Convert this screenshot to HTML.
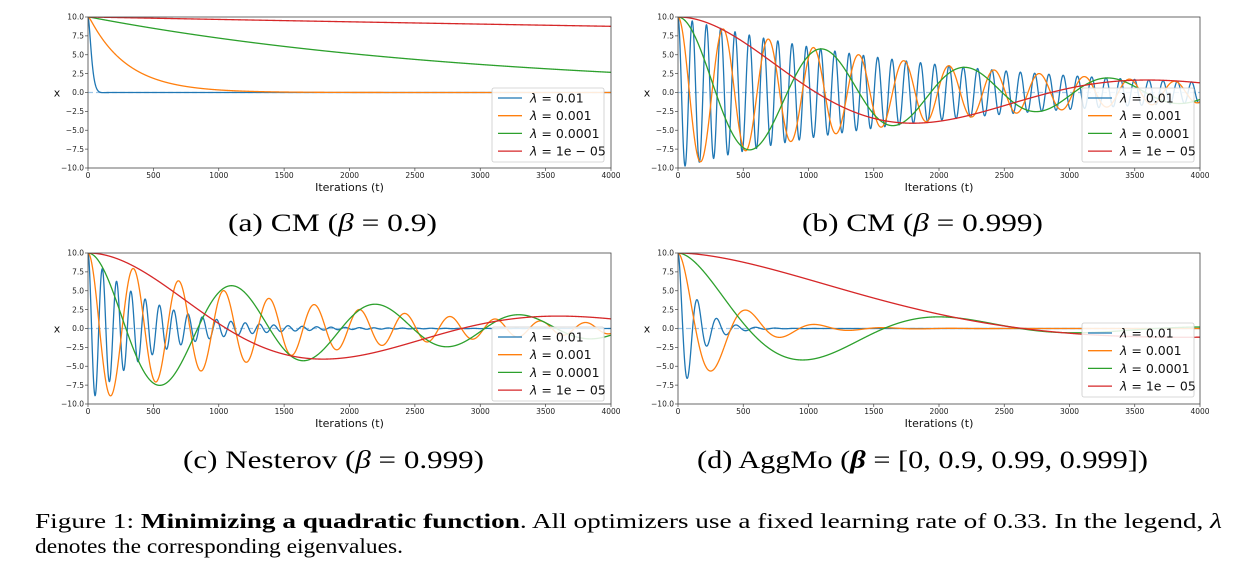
<!DOCTYPE html>
<html><head><meta charset="utf-8"><style>
body{margin:0;background:#fff;width:1245px;height:571px;overflow:hidden}
svg{display:block}
.tk{font-family:"DejaVu Sans",sans-serif;font-size:7.5px;fill:#222}
.lab{font-family:"DejaVu Sans",sans-serif;font-size:11px;fill:#111}
.lg{font-family:"DejaVu Sans",sans-serif;font-size:12.5px;fill:#111}
.cap{font-family:"Liberation Serif",serif;font-size:25px;fill:#000}
.fig{font-family:"Liberation Serif",serif;font-size:21px;fill:#000}
</style></head><body>
<svg id="s" width="1245" height="571"></svg>
<script>
// data
const lambdas=[0.01,0.001,0.0001,0.00001];
const lambdaLabels=["0.01","0.001","0.0001","1e \u2212 05"];
const colors=["#1f77b4","#ff7f0e","#2ca02c","#d62728"];
const xTicks=[0,500,1000,1500,2000,2500,3000,3500,4000];
const yTicks=[10,7.5,5,2.5,0,-2.5,-5,-7.5,-10];
const yTickLabels=["10.0","7.5","5.0","2.5","0.0","\u22122.5","\u22125.0","\u22127.5","\u221210.0"];
const learningRate=0.33;
const startValue=10;
const numIters=4000;
const aggmoBetas=[0,0.9,0.99,0.999];
const panelMethods=["cm","cm","nesterov","aggmo"];
const panelBetas=[0.9,0.999,0.999,0];

const NS="http://www.w3.org/2000/svg";
const svg=document.getElementById('s');
function mk(tag,attrs,parent){const e=document.createElementNS(NS,tag);for(const k in attrs)e.setAttribute(k,attrs[k]);(parent||svg).appendChild(e);return e;}

function simulate(method,beta,lam){
  const xs=[startValue];let x=startValue;
  if(method==="aggmo"){
    const vs=aggmoBetas.map(()=>0);
    for(let t=0;t<numIters;t++){const g=lam*x;let s=0;for(let i=0;i<vs.length;i++){vs[i]=aggmoBetas[i]*vs[i]-g;s+=vs[i];}x=x+learningRate/vs.length*s;xs.push(x);}
  }else{
    let v=0;
    for(let t=0;t<numIters;t++){const g=method==="nesterov"?lam*(x+beta*v):lam*x;v=beta*v-learningRate*g;x=x+v;xs.push(x);}
  }
  return xs;
}

const boxes=[[88,611,17,168],[678,1200,17,168],[88,611,253,404],[678,1200,253,404]];
const legendBoxes=[[492,88],[1082,88],[492,327],[1082,323]];
const names=["a","b","c","d"];

boxes.forEach((b,p)=>{
  const [x0,x1,y0,y1]=b;
  const g=mk('g',{});
  
  
  const X=t=>x0+(t/4000)*(x1-x0);
  const Y=v=>y0+(10-v)/20*(y1-y0);
  const clip=mk('clipPath',{id:'c'+p},g);mk('rect',{x:x0,y:y0,width:x1-x0,height:y1-y0},clip);
  const z=mk('line',{x1:x0,x2:x1,y1:Y(0),y2:Y(0),stroke:"#9ec5e6","stroke-width":1.2,"stroke-dasharray":"5,3"},g);
  
  
  lambdas.forEach((lam,i)=>{
    const xs=simulate(panelMethods[p],panelBetas[p],lam);
    let d="";for(let t=0;t<xs.length;t++){const vv=Math.max(-12,Math.min(12,xs[t]));d+=(t?"L":"M")+X(t).toFixed(2)+" "+Y(vv).toFixed(2);}
    const path=mk('path',{d:d,fill:"none",stroke:colors[i],"stroke-width":1.3,"clip-path":"url(#c"+p+")"},g);
    
    
  });
  const fr=mk('rect',{x:x0,y:y0,width:x1-x0,height:y1-y0,fill:"none",stroke:"#444","stroke-width":0.8},g);
  
  
  xTicks.forEach(t=>{
    mk('line',{x1:X(t),x2:X(t),y1:y1,y2:y1+3,stroke:"#444","stroke-width":0.7},g);
    const tx=mk('text',{x:X(t),y:y1+10,"text-anchor":"middle",class:"tk"},g);tx.textContent=t;
    
    
  });
  yTicks.forEach((v,i)=>{
    mk('line',{x1:x0-3,x2:x0,y1:Y(v),y2:Y(v),stroke:"#444","stroke-width":0.7},g);
    const tx=mk('text',{x:x0-4,y:Y(v)+2.7,"text-anchor":"end",class:"tk"},g);tx.textContent=yTickLabels[i];
    
    
  });
  const xl=mk('text',{x:(x0+x1)/2,y:y1+23,"text-anchor":"middle",class:"lab"},g);xl.textContent="Iterations (t)";
  
  
  const yl=mk('text',{x:x0-31,y:(y0+y1)/2+4,"text-anchor":"middle",class:"lab"},g);yl.textContent="x";
  
  
  const [lx,ly]=legendBoxes[p];
  const lg=mk('g',{},g);
  
  
  mk('rect',{x:lx,y:ly,width:112,height:74,rx:2,fill:"#fff","fill-opacity":0.85,stroke:"#ccc","stroke-width":0.8},lg);
  lambdas.forEach((lam,i)=>{
    const cy=ly+10+i*17.7;
    const e=mk('g',{},lg);
    
    
    mk('line',{x1:lx+6,x2:lx+30,y1:cy,y2:cy,stroke:colors[i],"stroke-width":1.3},e);
    const t=mk('text',{x:lx+38,y:cy+4.5,class:"lg"},e);
    t.innerHTML='<tspan font-style="italic">λ</tspan> = '+lambdaLabels[i];
  });
});
</script>
<svg style="position:absolute;left:0;top:0" width="1245" height="571">
<text class="cap" x="228" y="231" textLength="209" lengthAdjust="spacingAndGlyphs">(a) CM (<tspan font-style="italic">β</tspan> = 0.9)</text>
<text class="cap" x="802" y="231" textLength="241" lengthAdjust="spacingAndGlyphs">(b) CM (<tspan font-style="italic">β</tspan> = 0.999)</text>
<text class="cap" x="183" y="468" textLength="301" lengthAdjust="spacingAndGlyphs">(c) Nesterov (<tspan font-style="italic">β</tspan> = 0.999)</text>
<text class="cap" x="697" y="468" textLength="451" lengthAdjust="spacingAndGlyphs">(d) AggMo (<tspan font-weight="bold" font-style="italic">β</tspan> = [0, 0.9, 0.99, 0.999])</text>
<text class="fig" x="35" y="528" textLength="1187" lengthAdjust="spacingAndGlyphs">Figure 1: <tspan font-weight="bold">Minimizing a quadratic function</tspan>. All optimizers use a fixed learning rate of 0.33. In the legend, <tspan font-style="italic">λ</tspan></text>
<text class="fig" x="35" y="553" textLength="368" lengthAdjust="spacingAndGlyphs">denotes the corresponding eigenvalues.</text>
</svg>
</body></html>
